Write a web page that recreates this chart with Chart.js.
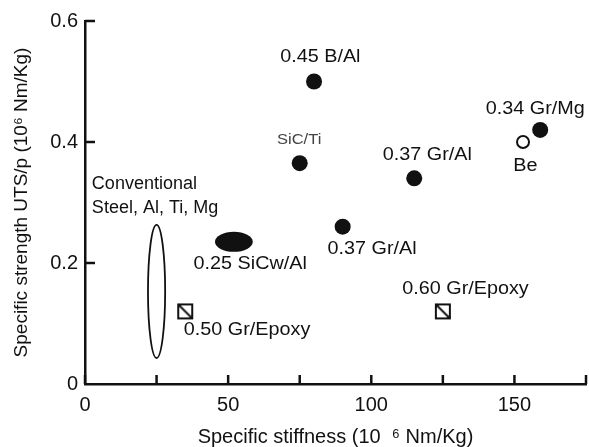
<!DOCTYPE html>
<html>
<head>
<meta charset="utf-8">
<script src="https://cdn.jsdelivr.net/npm/chart.js@4"></script>
<style>
  html, body { margin:0; padding:0; background:#fff; }
  #wrap { width:589px; height:447px; }
</style>
</head>
<body>
<div id="wrap"><canvas id="c" width="589" height="447"></canvas></div>
<script>
const FONT = '"Liberation Sans", Arial, Helvetica, sans-serif'

// filled composites
const dotX = [80, 75, 115, 90, 159]
const dotY = [0.50, 0.365, 0.34, 0.26, 0.42]
// beryllium (open)
const openX = [153]
const openY = [0.40]
// graphite/epoxy (square with slash)
const sqX = [35, 125]
const sqY = [0.12, 0.12]
// ellipse regions: centre and half-extent, data units
const ellX  = [25, 52]
const ellY  = [0.153, 0.235]
const ellRX = [3, 6.6]
const ellRY = [0.11, 0.0165]
const ellFill = [false, true]

// annotation text and anchor (data units)
const labText = ['0.45 B/Al', 'SiC/Ti', '0.37 Gr/Al', '0.34 Gr/Mg', 'Be', '0.37 Gr/Al',
                 '0.60 Gr/Epoxy', '0.25 SiCw/Al', '0.50 Gr/Epoxy', 'Conventional', 'Steel, Al, Ti, Mg']
const labX = [82.2, 74.8, 119.6, 157.3, 153.8, 100.3, 132.9, 57.7, 56.6, 2.4, 2.4]
const labY = [0.540, 0.403, 0.379, 0.455, 0.360, 0.223, 0.157, 0.198, 0.089, 0.331, 0.291]

const xTicksMajor = [0, 50, 100, 150]

function toPts(xs, ys) { return xs.map((x, i) => ({ x, y: ys[i] })) }

// square marker with a diagonal
const sq = document.createElement('canvas')
sq.width = 18; sq.height = 18
{
  const g = sq.getContext('2d')
  g.strokeStyle = '#111'; g.lineWidth = 2
  g.strokeRect(2, 2, 14, 14)
  g.beginPath(); g.moveTo(3, 3); g.lineTo(15, 15); g.stroke()
}

const ellipses = {
  id: 'ellipses',
  afterDatasetsDraw(chart) {
    const { ctx, scales: { x, y } } = chart
    ctx.save()
    ellX.forEach((cx, i) => {
      const px = x.getPixelForValue(cx), py = y.getPixelForValue(ellY[i])
      const rx = Math.abs(x.getPixelForValue(cx + ellRX[i]) - px)
      const ry = Math.abs(y.getPixelForValue(ellY[i] + ellRY[i]) - py)
      ctx.beginPath()
      ctx.ellipse(px, py, rx, ry, 0, 0, Math.PI * 2)
      if (ellFill[i]) { ctx.fillStyle = '#111'; ctx.fill() }
      else { ctx.strokeStyle = '#111'; ctx.lineWidth = 1.8; ctx.stroke() }
    })
    ctx.restore()
  }
}

const inwardTicks = {
  id: 'inwardTicks',
  afterDraw(chart) {
    const { ctx, scales: { x, y }, chartArea: a } = chart
    ctx.save()
    ctx.strokeStyle = '#111'; ctx.lineWidth = 2.5
    x.ticks.forEach(t => {
      const px = x.getPixelForValue(t.value)
      ctx.beginPath(); ctx.moveTo(px, a.bottom); ctx.lineTo(px, a.bottom - 9); ctx.stroke()
    })
    y.ticks.forEach(t => {
      if (t.value === 0) return
      const py = y.getPixelForValue(t.value)
      ctx.beginPath(); ctx.moveTo(a.left, py); ctx.lineTo(a.left + 10, py); ctx.stroke()
    })
    ctx.restore()
  }
}

// the printed lettering is a little wider than Arial, so stretch it sideways
const labels = {
  id: 'labels',
  afterDraw(chart) {
    const { ctx, scales: { x, y } } = chart
    labText.forEach((s, i) => {
      const left = s === 'Conventional' || s.startsWith('Steel')
      const small = s === 'SiC/Ti'
      ctx.save()
      ctx.translate(x.getPixelForValue(labX[i]), y.getPixelForValue(labY[i]))
      ctx.scale(left ? 1.0 : 1.1, 1)
      ctx.textBaseline = 'middle'
      ctx.textAlign = left ? 'left' : 'center'
      ctx.font = (small ? '15px ' : '18px ') + FONT
      ctx.fillStyle = small ? '#444' : '#111'
      ctx.fillText(s, 0, 0)
      ctx.restore()
    })
  }
}

new Chart(document.getElementById('c'), {
  type: 'scatter',
  data: {
    datasets: [
      { data: toPts(dotX, dotY), backgroundColor: '#111', borderColor: '#111', pointRadius: 8, borderWidth: 0 },
      { data: toPts(openX, openY), backgroundColor: '#fff', borderColor: '#111', pointRadius: 6, borderWidth: 2 },
      { data: toPts(sqX, sqY), pointStyle: sq, pointRadius: 9 }
    ]
  },
  options: {
    responsive: false, animation: false,
    layout: { autoPadding: false, padding: { top: 21, right: 3, left: 0, bottom: 0 } },
    plugins: { legend: { display: false }, tooltip: { enabled: false } },
    scales: {
      x: {
        type: 'linear', min: 0, max: 175,
        afterFit(s) { s.height = 63; s.paddingRight = 0; s.paddingLeft = 0 },
        grid: { display: false, drawTicks: false },
        border: { display: true, color: '#111', width: 2.5 },
        ticks: {
          stepSize: 25, padding: 9, color: '#111', maxRotation: 0, autoSkip: false,
          font: { family: FONT, size: 20 },
          callback: v => xTicksMajor.includes(v) ? String(v) : ''
        },
        title: {
          display: true, text: 'Specific stiffness (10  \u2076 Nm/Kg)', color: '#111',
          font: { family: FONT, size: 20, lineHeight: 1 }, padding: { top: 0, bottom: 0 }
        }
      },
      y: {
        type: 'linear', min: 0, max: 0.6,
        afterFit(s) { s.width = 85; s.paddingTop = 0; s.paddingBottom = 0 },
        grid: { display: false, drawTicks: false },
        border: { display: true, color: '#111', width: 2.5 },
        ticks: {
          stepSize: 0.2, padding: 7, color: '#111',
          font: { family: FONT, size: 20 }
        },
        title: {
          display: true, text: 'Specific strength UTS/p (10\u2076 Nm/Kg)', color: '#111',
          font: { family: FONT, size: 19, lineHeight: 1 }, padding: { top: 12, bottom: 0 }
        }
      }
    }
  },
  plugins: [ellipses, inwardTicks, labels]
})
</script>
</body>
</html>
